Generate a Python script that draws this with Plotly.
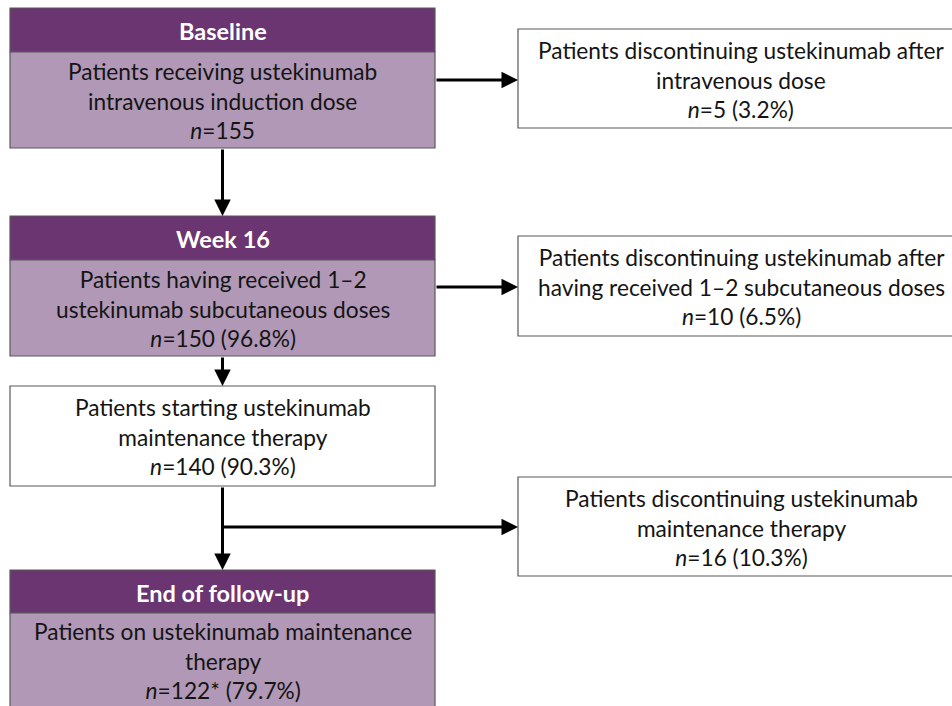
import plotly.graph_objects as go

# ---- data ----
stage_titles = ["Baseline", "Week 16", "", "End of follow-up"]
stage_texts = [
    "Patients receiving ustekinumab<br>intravenous induction dose<br><i>n</i>=155",
    "Patients having received 1–2<br>ustekinumab subcutaneous doses<br><i>n</i>=150 (96.8%)",
    "Patients starting ustekinumab<br>maintenance therapy<br><i>n</i>=140 (90.3%)",
    "Patients on ustekinumab maintenance<br>therapy<br><i>n</i>=122* (79.7%)",
]
side_texts = [
    "Patients discontinuing ustekinumab after<br>intravenous dose<br><i>n</i>=5 (3.2%)",
    "Patients discontinuing ustekinumab after<br>having received 1–2 subcutaneous doses<br><i>n</i>=10 (6.5%)",
    "Patients discontinuing ustekinumab<br>maintenance therapy<br><i>n</i>=16 (10.3%)",
]

# ---- layout geometry ----
W, H = 952, 706
LX0, LX1 = 10, 435
left_boxes = [  # top, header bottom (None if no header), bottom
    (8, 52, 148),
    (216, 260, 356),
    (386, None, 486),
    (570, 613, 712),
]
RX0, RX1 = 518, 953
right_boxes = [(29, 128), (236, 336), (477, 576)]

DARK = "#6A3571"
LIGHT = "#B098B6"
BORDER = "#595959"
FONT = "Lato"
FS = 22.7
HFS = 23.5
TXT = "#141414"

fig = go.Figure()
shapes = []
annotations = []
cx = 222.5

for title, txt, (t, hb, b) in zip(stage_titles, stage_texts, left_boxes):
    if hb is not None:
        shapes.append(dict(type="rect", x0=LX0, x1=LX1, y0=t, y1=hb,
                           fillcolor=DARK, line=dict(color=BORDER, width=1.2), layer="below"))
        shapes.append(dict(type="rect", x0=LX0, x1=LX1, y0=hb, y1=b,
                           fillcolor=LIGHT, line=dict(color=BORDER, width=1.2), layer="below"))
        annotations.append(dict(x=cx, y=(t + hb) / 2 + 1, text="<b>" + title + "</b>",
                                showarrow=False, xanchor="center", yanchor="middle",
                                font=dict(family=FONT, size=HFS, color="white")))
        body_top = hb
    else:
        shapes.append(dict(type="rect", x0=LX0, x1=LX1, y0=t, y1=b,
                           fillcolor="white", line=dict(color=BORDER, width=1.2), layer="below"))
        body_top = t
    bc = (body_top + min(b, H)) / 2 + 1
    annotations.append(dict(x=cx, y=bc, text=txt, showarrow=False,
                            xanchor="center", yanchor="middle", align="center",
                            font=dict(family=FONT, size=FS, color=TXT)))

rcx = 741
for txt, (t, b) in zip(side_texts, right_boxes):
    shapes.append(dict(type="rect", x0=RX0, x1=RX1, y0=t, y1=b,
                       fillcolor="white", line=dict(color=BORDER, width=1.2), layer="below"))
    annotations.append(dict(x=rcx, y=(t + b) / 2 + 1, text=txt, showarrow=False,
                            xanchor="center", yanchor="middle", align="center",
                            font=dict(family=FONT, size=FS, color=TXT)))

# arrows: (x_start, y_start, x_end, y_end)
arrows = [
    (LX1, 80, RX0, 80),
    (cx, 148, cx, 216),
    (LX1, 287, RX0, 287),
    (cx, 356, cx, 386),
    (cx, 486, cx, 570),
    (cx, 527, RX0, 527),
]
for x0, y0, x1, y1 in arrows:
    annotations.append(dict(x=x1, y=y1, ax=x0, ay=y0, xref="x", yref="y",
                            axref="x", ayref="y", showarrow=True, text="",
                            arrowhead=2, arrowsize=1.1, arrowwidth=3, arrowcolor="black"))

fig.update_layout(
    width=W, height=H, margin=dict(l=0, r=0, t=0, b=0),
    paper_bgcolor="white", plot_bgcolor="white",
    xaxis=dict(range=[0, W], visible=False, fixedrange=True),
    yaxis=dict(range=[H, 0], visible=False, fixedrange=True),
    shapes=shapes, annotations=annotations, showlegend=False,
    hovermode=False,
)
fig.write_html("out.html", config={"displayModeBar": False, "staticPlot": True},
               post_script="document.body.style.margin='0';document.body.style.overflow='hidden';")
